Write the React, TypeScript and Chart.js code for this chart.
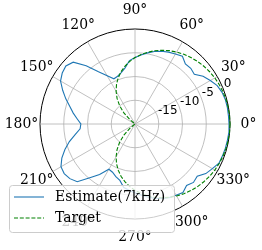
import React, { useEffect, useRef } from 'react';
import { Chart, registerables } from 'chart.js';

Chart.register(...registerables);

// Angles in degrees (math convention, counter-clockwise from the right)
const ANGLES = [
  0, 5, 10, 15, 20, 25, 30, 35, 40, 45, 50, 55, 60, 65, 70, 75, 80, 85,
  90, 95, 100, 105, 110, 115, 120, 125, 130, 135, 140, 145, 150, 155, 160, 165, 170, 175,
  180, 185, 190, 195, 200, 205, 210, 215, 220, 225, 230, 235, 240, 245, 250, 255, 260, 265,
  270, 275, 280, 285, 290, 295, 300, 305, 310, 315, 320, 325, 330, 335, 340, 345, 350, 355,
];

// Estimated response (dB)
const ESTIMATE = [
  -0.2, -0.25, -0.25, -0.3, -0.5, -0.9, -1.7, -2.5, -3.7, -3.4, -3.5, -2.6, -3.0, -3.3, -3.7, -4.2, -4.8, -5.4,
  -6.0, -6.6, -8.0, -8.8, -9.3, -9.5, -8.3, -6.6, -4.0, -1.6, -1.0, -1.3, -1.9, -3.2, -4.5, -5.8, -6.8, -7.8,
  -8.6, -8.4, -7.2, -5.7, -4.3, -3.0, -2.0, -1.8, -2.1, -2.8, -5.2, -7.0, -9.0, -8.8, -8.2, -7.7, -6.4, -6.0,
  -5.5, -5.0, -4.4, -3.8, -3.3, -2.9, -2.7, -2.4, -3.1, -2.6, -2.9, -1.8, -1.2, -0.5, -0.4, -0.3, -0.25, -0.15,
];

// Target response (dB), clipped at the plot minimum
const TARGET = [
  0, -0.02, -0.07, -0.15, -0.27, -0.42, -0.6, -0.82, -1.08, -1.37, -1.71, -2.08, -2.5, -2.96, -3.47, -4.03, -4.65, -5.33,
  -6.02, -6.81, -7.68, -8.62, -9.66, -10.79, -12.04, -13.42, -14.96, -16.69, -18.64, -20, -20, -20, -20, -20, -20, -20,
  -20, -20, -20, -20, -20, -20, -20, -20, -18.64, -16.69, -14.96, -13.42, -12.04, -10.79, -9.66, -8.62, -7.68, -6.81,
  -6.02, -5.33, -4.65, -4.03, -3.47, -2.96, -2.5, -2.08, -1.71, -1.37, -1.08, -0.82, -0.6, -0.42, -0.27, -0.15, -0.07, -0.02,
];

const ANGLE_TICKS = [0, 30, 60, 90, 120, 150, 180, 210, 240, 270, 300, 330];
const R_TICKS = [-15, -10, -5, 0];
const R_MIN = -20;
const R_MAX = 0;
const R_LABEL_ANGLE = 22.5;
const SERIES_LABELS = ['Estimate(7kHz)', 'Target'];

const N = ANGLES.length;
const STEP = 360 / N;
// Chart.js radar goes clockwise; index i holds math angle (360 - i*STEP)
const idxForAngle = (deg: number) => (N - deg / STEP) % N;
const toChartOrder = (values: number[]) => ANGLES.map((_, i) => values[(N - i) % N]);

const overlayPlugin = {
  id: 'polarOverlay',
  afterDatasetsDraw(chart: any) {
    const s = chart.scales.r;
    const ctx = chart.ctx as CanvasRenderingContext2D;
    ctx.save();
    ctx.fillStyle = '#000';
    // angle labels
    ctx.font = '13.9px "DejaVu Serif"';
    ctx.textAlign = 'center';
    ctx.textBaseline = 'middle';
    for (const a of ANGLE_TICKS) {
      const p = s.getPointPosition(idxForAngle(a), s.drawingArea + 18.5);
      ctx.fillText(`${a}°`, p.x, p.y);
    }
    // radial labels
    ctx.font = '12px "DejaVu Sans"';
    ctx.textAlign = 'left';
    ctx.textBaseline = 'alphabetic';
    for (const v of R_TICKS) {
      const p = s.getPointPosition(idxForAngle(R_LABEL_ANGLE), s.getDistanceFromCenterForValue(v));
      ctx.fillText(String(v), p.x + 1, p.y - 1);
    }
    // legend
    const x0 = 9.5, y0 = 185.5, w = 165, h = 47;
    ctx.beginPath();
    (ctx as any).roundRect(x0, y0, w, h, 3);
    ctx.fillStyle = 'rgba(255,255,255,0.8)';
    ctx.fill();
    ctx.strokeStyle = '#cccccc';
    ctx.lineWidth = 1;
    ctx.stroke();
    const rows = [197, 218];
    chart.data.datasets.forEach((ds: any, i: number) => {
      const y = rows[i];
      ctx.beginPath();
      ctx.setLineDash(ds.borderDash || []);
      ctx.strokeStyle = ds.borderColor;
      ctx.lineWidth = ds.borderWidth;
      ctx.moveTo(14, y);
      ctx.lineTo(44, y);
      ctx.stroke();
      ctx.setLineDash([]);
      ctx.fillStyle = '#000';
      ctx.font = '13.9px "DejaVu Serif"';
      ctx.textAlign = 'left';
      ctx.textBaseline = 'middle';
      ctx.fillText(ds.label, 55, y);
    });
    ctx.restore();
  },
};

export default function App() {
  const ref = useRef<HTMLCanvasElement | null>(null);
  useEffect(() => {
    if (!ref.current) return;
    const chart = new Chart(ref.current, {
      type: 'radar',
      data: {
        labels: toChartOrder(ANGLES).map((a) => `${a}°`),
        datasets: [
          {
            label: SERIES_LABELS[0],
            data: toChartOrder(ESTIMATE),
            borderColor: '#1f77b4',
            borderWidth: 1.1,
            fill: false,
            pointRadius: 0,
            order: 1,
          },
          {
            label: SERIES_LABELS[1],
            data: toChartOrder(TARGET),
            borderColor: '#008000',
            borderWidth: 1.1,
            borderDash: [4, 1.8],
            fill: false,
            pointRadius: 0,
            order: 0,
          },
        ],
      },
      options: {
        responsive: false,
        animation: false,
        layout: { padding: { left: 40, right: 32, top: 29, bottom: 31 } },
        plugins: { legend: { display: false }, tooltip: { enabled: false }, title: { display: false } },
        elements: { line: { tension: 0 } },
        scales: {
          r: {
            min: R_MIN,
            max: R_MAX,
            startAngle: 90,
            ticks: { display: false, stepSize: 5 },
            pointLabels: { display: false },
            grid: {
              circular: true,
              color: (c: any) => (c.tick && c.tick.value === R_MAX ? '#000000' : '#b0b0b0'),
              lineWidth: (c: any) => (c.tick && c.tick.value === R_MAX ? 1 : 0.8),
            },
            angleLines: {
              display: true,
              color: (c: any) => {
                const a = Number(String(c.label).replace('°', ''));
                return ANGLE_TICKS.includes(a) ? '#b0b0b0' : 'rgba(0,0,0,0)';
              },
              lineWidth: 0.8,
            },
          },
        },
      },
      plugins: [overlayPlugin],
    });
    return () => chart.destroy();
  }, []);
  return (
    <div style={{ position: 'fixed', left: 0, top: 0, width: 262, height: 250, background: '#fff' }}>
      <canvas ref={ref} width={262} height={250} style={{ width: 262, height: 250, display: 'block' }} />
    </div>
  );
}
